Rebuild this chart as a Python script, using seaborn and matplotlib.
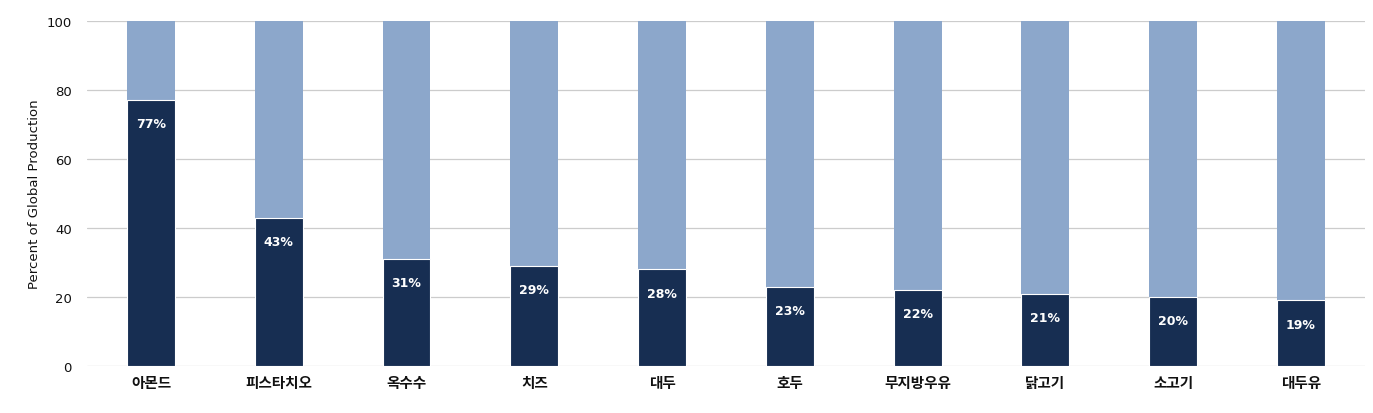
import matplotlib
matplotlib.use("Agg")
import matplotlib.pyplot as plt
import seaborn as sns
import pandas as pd

# Data
crops = ["아몬드", "피스타치오", "옥수수", "치즈", "대두", "호두", "무지방우유", "닭고기", "소고기", "대두유"]
us_share = [77, 43, 31, 29, 28, 23, 22, 21, 20, 19]
total = [100] * len(crops)

df = pd.DataFrame({"crop": crops, "share": us_share, "total": total})

sns.set_style("white")
plt.rcParams['font.family'] = ['Noto Sans CJK KR', 'DejaVu Sans']
plt.rcParams['text.color'] = "#111111"
plt.rcParams['xtick.color'] = "#111111"
plt.rcParams['ytick.color'] = "#111111"
plt.rcParams['axes.labelcolor'] = "#111111"

fig = plt.figure(figsize=(13.73, 4.14), dpi=100)
ax = fig.add_axes([0.0634, 0.1135, 0.9306, 0.8334])

light = "#8ca7cb"
dark = "#172e52"

sns.barplot(data=df, x="crop", y="total", color=light, width=0.375,
            saturation=1, ax=ax, zorder=2)
sns.barplot(data=df, x="crop", y="share", color=dark, width=0.375,
            saturation=1, ax=ax, zorder=3)

# white seam at the top of dark segment
for p in ax.patches[len(crops):]:
    p.set_edgecolor("white")
    p.set_linewidth(0.8)
for p in ax.patches[:len(crops)]:
    p.set_linewidth(0)

for i, v in enumerate(us_share):
    ax.annotate(f"{v}%", (i, v), xytext=(0, -17), textcoords="offset points",
                ha="center", va="center", color="white", fontsize=9,
                fontweight="bold", family=["DejaVu Sans"], zorder=4)

ax.set_xlim(-0.5, len(crops) - 0.5)
ax.set_ylim(0, 100)
ax.set_yticks([0, 20, 40, 60, 80, 100])
ax.yaxis.grid(True, color="#cccccc", linewidth=0.9, zorder=0)
ax.set_axisbelow(True)
for s in ax.spines.values():
    s.set_visible(False)
ax.tick_params(axis="both", length=0)
ax.tick_params(axis="y", labelsize=9.5, pad=11)
ax.tick_params(axis="x", labelsize=10.5, pad=6)
for t in ax.get_xticklabels():
    t.set_fontweight("bold")
for t in ax.get_yticklabels():
    t.set_family(["DejaVu Sans"])
ax.set_xlabel("")
ax.set_ylabel("Percent of Global Production", fontsize=9.5, labelpad=4,
              family=["DejaVu Sans"])

fig.savefig("out.png", dpi=100)
